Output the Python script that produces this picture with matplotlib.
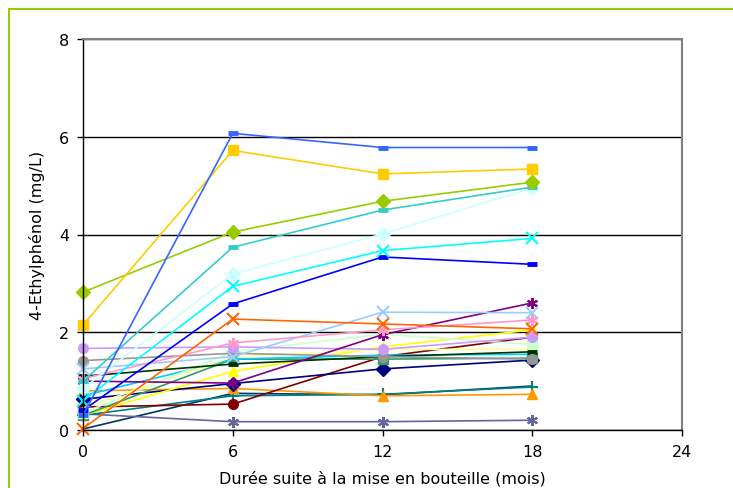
import matplotlib
matplotlib.use("Agg")
import matplotlib.pyplot as plt
from matplotlib.patches import Rectangle

months = [0, 6, 12, 18]
x_ticks = [0, 6, 12, 18, 24]
y_ticks = [0, 2, 4, 6, 8]
x_label = "Durée suite à la mise en bouteille (mois)"
y_label = "4-Ethylphénol (mg/L)"

# values at 0, 6, 12, 18 months
s_royal = [0.30, 6.07, 5.78, 5.78]
s_gold = [2.15, 5.72, 5.24, 5.34]
s_lime = [2.82, 4.05, 4.68, 5.07]
s_aqua = [1.00, 3.74, 4.50, 4.97]
s_lturq = [0.85, 3.19, 4.01, 4.95]
s_cyan = [0.60, 2.94, 3.67, 3.92]
s_blue = [0.40, 2.58, 3.54, 3.39]
s_orange = [0.03, 2.27, 2.17, 2.07]
s_rose = [1.05, 1.78, 2.05, 2.25]
s_lav = [1.67, 1.70, 1.65, 1.90]
s_gray = [1.42, 1.57, 1.50, 1.45]
s_pblue = [1.25, 1.50, 2.41, 2.40]
s_dgreen = [1.10, 1.35, 1.50, 1.60]
s_purple = [1.00, 0.96, 1.95, 2.60]
s_lorange = [0.80, 0.85, 0.70, 0.73]
s_navy = [0.63, 0.95, 1.25, 1.43]
s_dred = [0.47, 0.53, 1.50, 1.90]
s_yellow = [0.30, 1.20, 1.70, 2.05]
s_teal = [0.30, 0.70, 0.73, 0.88]
s_bgray = [0.33, 0.17, 0.17, 0.20]
s_dteal = [0.02, 0.75, 0.72, 0.90]
s_sea = [0.30, 1.45, 1.45, 1.47]
s_lgreen = [0.35, 1.60, 1.96, 1.75]
s_lyellow = [0.45, 1.50, 1.65, 1.65]
s_sky = [0.70, 1.45, 1.53, 1.55]

AST = (6, 2, 0)
series = [
    ("#003366", None, s_dteal),
    ("#666699", AST, s_bgray),
    ("#008080", "+", s_teal),
    ("#FF9900", "^", s_lorange),
    ("#800000", "o", s_dred),
    ("#000080", "D", s_navy),
    ("#FFFF00", "^", s_yellow),
    ("#339966", "s", s_sea),
    ("#00CCFF", None, s_sky),
    ("#FFFF99", None, s_lyellow),
    ("#CCFFCC", "s", s_lgreen),
    ("#003300", "_", s_dgreen),
    ("#969696", "o", s_gray),
    ("#CC99FF", "o", s_lav),
    ("#800080", AST, s_purple),
    ("#99CCFF", "x", s_pblue),
    ("#FF99CC", AST, s_rose),
    ("#FF6600", "x", s_orange),
    ("#0000FF", "_", s_blue),
    ("#00FFFF", "x", s_cyan),
    ("#CCFFFF", "D", s_lturq),
    ("#33CCCC", "_", s_aqua),
    ("#99CC00", "D", s_lime),
    ("#FFCC00", "s", s_gold),
    ("#3366FF", "_", s_royal),
]

fig = plt.figure(figsize=(7.33, 4.89), dpi=100)
fig.patch.set_facecolor("white")
fig.patches.append(Rectangle((9 / 733, -0.5), 3.0, 1.5 - 10 / 489,
                             transform=fig.transFigure, fill=False,
                             edgecolor="#99CC00", linewidth=1.5))

ax = fig.add_axes([83 / 733, 58 / 489, 599 / 733, 391 / 489])
for color, marker, vals in series:
    kw = dict(color=color, linewidth=1.2, clip_on=False)
    if marker is None:
        ax.plot(months, vals, **kw)
    elif marker == "_":
        ax.plot(months, vals, marker="_", markersize=7, markeredgewidth=3.5, **kw)
    elif marker in ("x", "+") or isinstance(marker, tuple):
        ax.plot(months, vals, marker=marker, markersize=8, markeredgewidth=1.5, **kw)
    else:
        ax.plot(months, vals, marker=marker, markersize=7, markeredgecolor=color, **kw)

ax.set_xlim(0, 24)
ax.set_ylim(0, 8)
ax.set_xticks(x_ticks)
ax.set_yticks(y_ticks)
ax.grid(axis="y", color="black", linewidth=1.0)
ax.set_axisbelow(True)
for side in ("top", "right"):
    ax.spines[side].set_color("#808080")
    ax.spines[side].set_linewidth(1.5)
for side in ("left", "bottom"):
    ax.spines[side].set_color("black")
    ax.spines[side].set_linewidth(1.0)
ax.tick_params(axis="both", direction="out", length=4, width=1, labelsize=11.5,
               colors="black", pad=6)
ax.set_xlabel(x_label, fontsize=11.5, labelpad=8)
ax.set_ylabel(y_label, fontsize=11.5, labelpad=10)

fig.savefig("out.png", dpi=100, facecolor="white")
